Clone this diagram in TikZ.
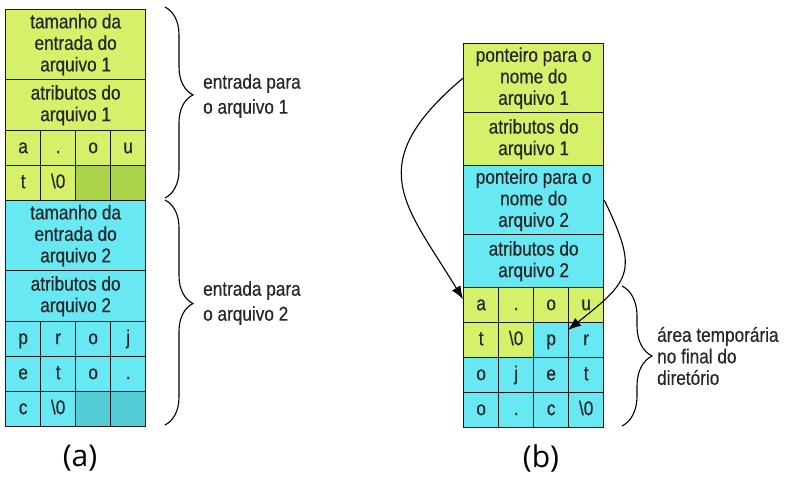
\documentclass[tikz,border=0pt]{standalone}
\usepackage{fontspec}
\setmainfont[FakeStretch=0.86, FakeBold=0.4]{Liberation Sans}
\newfontfamily\rotulofonte{Open Sans}
\usepackage{tikz}
\usetikzlibrary{arrows.meta,decorations.pathreplacing}
\definecolor{lima}{RGB}{214,240,106}
\definecolor{limaesc}{RGB}{172,212,74}
\definecolor{ciano}{RGB}{104,232,242}
\definecolor{cianoesc}{RGB}{84,204,214}
\tikzstyle{campo}=[draw=black!90, line width=1.3pt, inner sep=0pt, anchor=north west, align=center, font=\fontsize{20}{21.5}\selectfont, text=black!85]
\tikzstyle{grande}=[campo, minimum width=140pt, minimum height=70pt]
\tikzstyle{medio}=[campo, minimum width=140pt, minimum height=51pt]
\tikzstyle{letra}=[campo, minimum width=35pt, minimum height=35pt, text height=14pt, text depth=4pt]
\tikzstyle{nota}=[anchor=west, align=left, inner sep=0pt, text=black!85]
\tikzstyle{chave}=[decorate, decoration={brace, amplitude=28pt, aspect=0.46}, line width=1.1pt]
\tikzstyle{seta}=[-{Latex[length=13pt,width=10pt]}, line width=1.1pt]
\tikzstyle{rotulo}=[font=\rotulofonte\fontsize{30}{30}\selectfont]

\begin{document}
\begin{tikzpicture}[x=1pt, y=-1pt]

\useasboundingbox (0,0) rectangle (790,477);

% (a)
\node[grande, fill=lima] (ta1) at (5,9) {tamanho da\\entrada do\\arquivo 1};
\node[medio, fill=lima] (aa1) at (5,79) {atributos do\\arquivo 1};
\foreach \c/\cor [count=\i] in {a/lima,./lima,o/lima,u/lima}
    \node[letra, fill=\cor] (a1-\i) at ({5+35*(\i-1)},130) {\c};
\foreach \c/\cor [count=\i] in {t/lima,\textbackslash 0/lima,/limaesc,/limaesc}
    \node[letra, fill=\cor] (a2-\i) at ({5+35*(\i-1)},165) {\c};
\node[grande, fill=ciano] (ta2) at (5,200) {tamanho da\\entrada do\\arquivo 2};
\node[medio, fill=ciano] (aa2) at (5,270) {atributos do\\arquivo 2};
\foreach \c [count=\i] in {p,r,o,j}
    \node[letra, fill=ciano] (a3-\i) at ({5+35*(\i-1)},321) {\c};
\foreach \c [count=\i] in {e,t,o,.}
    \node[letra, fill=ciano] (a4-\i) at ({5+35*(\i-1)},356) {\c};
\foreach \c/\cor [count=\i] in {c/ciano,\textbackslash 0/ciano,/cianoesc,/cianoesc}
    \node[letra, fill=\cor] (a5-\i) at ({5+35*(\i-1)},391) {\c};

\draw[chave] (165,7) -- (165,198);
\draw[chave] (165,200) -- (165,425);
\node[nota, font=\fontsize{20}{25}\selectfont] (n1) at (203,96) {entrada para\\o arquivo 1};
\node[nota, font=\fontsize{20}{25}\selectfont] (n2) at (203,303) {entrada para\\o arquivo 2};

\node[rotulo] (la) at (80,458) {(a)};

% (b)
\node[grande, fill=lima, minimum height=69pt] (p1) at (463,43) {ponteiro para o\\nome do\\arquivo 1};
\node[medio, fill=lima, minimum height=53pt] (ab1) at (463,112) {atributos do\\arquivo 1};
\node[grande, fill=ciano, minimum height=69pt] (p2) at (463,165) {ponteiro para o\\nome do\\arquivo 2};
\node[medio, fill=ciano, minimum height=53pt] (ab2) at (463,234) {atributos do\\arquivo 2};
\foreach \c/\cor [count=\i] in {a/lima,./lima,o/lima,u/lima}
    \node[letra, fill=\cor] (b1-\i) at ({463+35*(\i-1)},287) {\c};
\foreach \c/\cor [count=\i] in {t/lima,\textbackslash 0/lima,p/ciano,r/ciano}
    \node[letra, fill=\cor] (b2-\i) at ({463+35*(\i-1)},322) {\c};
\foreach \c [count=\i] in {o,j,e,t}
    \node[letra, fill=ciano] (b3-\i) at ({463+35*(\i-1)},357) {\c};
\foreach \c [count=\i] in {o,.,c,\textbackslash 0}
    \node[letra, fill=ciano] (b4-\i) at ({463+35*(\i-1)},392) {\c};

% ponteiros
\draw[seta] (p1.west) .. controls (360,165) and (406,205) .. ([yshift=6pt]b1-1.west);
\draw[seta] (p2.east) .. controls (639,272) and (631,280) .. ([yshift=-8pt]b2-4.north west);

\draw[chave, decoration={aspect=0.5, amplitude=30pt}] (622,286) -- (622,426);
\node[nota, font=\fontsize{20}{21.5}\selectfont] (n3) at (657,356) {área temporária\\no final do\\diretório};

\node[rotulo] (lb) at (541,458) {(b)};

\end{tikzpicture}
\end{document}
